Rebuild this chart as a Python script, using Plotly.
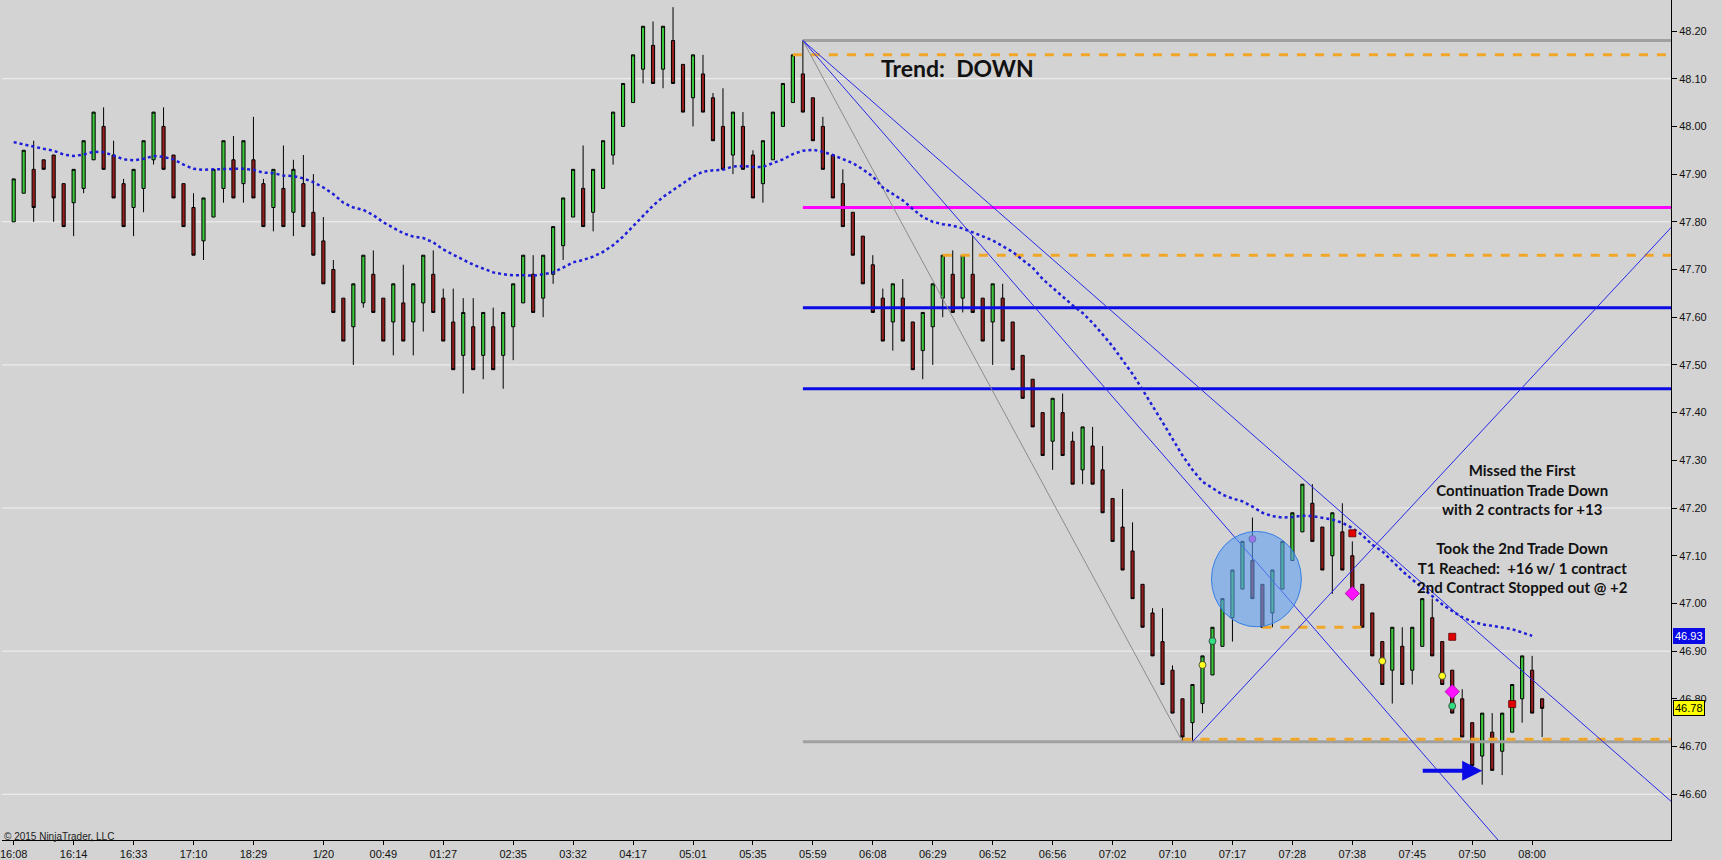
import plotly.graph_objects as go

# --- DATA ---
bars = list(range(154))

opens = [47.80, 47.86, 47.91, 47.93, 47.94, 47.88, 47.84, 47.87, 47.93, 48.00,
         47.94, 47.88, 47.83, 47.87, 47.93, 48.00, 47.94, 47.88, 47.83, 47.76,
         47.81, 47.87, 47.93, 47.88, 47.93, 47.88, 47.83, 47.87, 47.82, 47.88,
         47.82, 47.76, 47.70, 47.64, 47.58, 47.63, 47.69, 47.64, 47.59, 47.63,
         47.59, 47.63, 47.69, 47.64, 47.59, 47.52, 47.58, 47.52, 47.58, 47.52,
         47.58, 47.63, 47.69, 47.64, 47.69, 47.75, 47.81, 47.87, 47.82, 47.87,
         47.94, 48.00, 48.05, 48.12, 48.17, 48.12, 48.18, 48.13, 48.06, 48.11,
         48.06, 48.00, 47.94, 48.00, 47.94, 47.88, 47.93, 48.00, 48.05, 48.11,
         48.06, 48.00, 47.94, 47.88, 47.82, 47.77, 47.71, 47.64, 47.59, 47.64,
         47.59, 47.53, 47.58, 47.64, 47.69, 47.64, 47.69, 47.64, 47.59, 47.64,
         47.59, 47.52, 47.47, 47.40, 47.34, 47.40, 47.34, 47.28, 47.33, 47.28,
         47.22, 47.16, 47.11, 47.04, 46.98, 46.92, 46.86, 46.80, 46.75, 46.79,
         46.85, 46.91, 46.97, 47.03, 47.09, 47.04, 46.98, 47.03, 47.09, 47.15,
         47.21, 47.16, 47.10, 47.15, 47.10, 47.04, 46.98, 46.92, 46.86, 46.91,
         46.86, 46.91, 46.97, 46.92, 46.86, 46.80, 46.75, 46.68, 46.73, 46.69,
         46.73, 46.80, 46.86, 46.80]

highs = [47.89, 47.95, 47.97, 47.93, 47.94, 47.88, 47.91, 47.97, 48.03, 48.04,
         47.97, 47.89, 47.91, 47.97, 48.03, 48.04, 47.94, 47.88, 47.86, 47.85,
         47.91, 47.97, 47.98, 47.97, 48.02, 47.89, 47.91, 47.96, 47.93, 47.94,
         47.90, 47.81, 47.72, 47.64, 47.67, 47.73, 47.74, 47.64, 47.67, 47.71,
         47.67, 47.73, 47.74, 47.66, 47.66, 47.64, 47.64, 47.61, 47.62, 47.61,
         47.67, 47.73, 47.73, 47.73, 47.79, 47.85, 47.91, 47.96, 47.91, 47.97,
         48.03, 48.09, 48.15, 48.21, 48.22, 48.21, 48.25, 48.13, 48.15, 48.15,
         48.07, 48.08, 48.03, 48.03, 47.95, 47.97, 48.03, 48.09, 48.15, 48.18,
         48.06, 48.02, 47.94, 47.91, 47.82, 47.77, 47.73, 47.66, 47.67, 47.68,
         47.59, 47.61, 47.67, 47.73, 47.74, 47.73, 47.77, 47.64, 47.67, 47.67,
         47.59, 47.52, 47.47, 47.40, 47.43, 47.44, 47.36, 47.37, 47.37, 47.33,
         47.22, 47.24, 47.17, 47.04, 46.99, 46.99, 46.87, 46.80, 46.83, 46.89,
         46.95, 47.01, 47.07, 47.13, 47.18, 47.04, 47.07, 47.13, 47.19, 47.25,
         47.25, 47.16, 47.19, 47.21, 47.13, 47.04, 46.98, 46.92, 46.95, 46.95,
         46.95, 47.01, 47.01, 46.92, 46.86, 46.82, 46.75, 46.77, 46.77, 46.77,
         46.83, 46.89, 46.89, 46.80]

lows = [47.80, 47.86, 47.80, 47.91, 47.80, 47.79, 47.77, 47.86, 47.93, 47.91,
        47.85, 47.79, 47.77, 47.82, 47.92, 47.91, 47.85, 47.79, 47.73, 47.72,
        47.81, 47.84, 47.85, 47.84, 47.85, 47.79, 47.78, 47.79, 47.77, 47.79,
        47.73, 47.67, 47.61, 47.55, 47.50, 47.62, 47.61, 47.55, 47.52, 47.55,
        47.52, 47.57, 47.61, 47.55, 47.49, 47.44, 47.49, 47.47, 47.49, 47.45,
        47.51, 47.63, 47.61, 47.60, 47.67, 47.72, 47.81, 47.79, 47.78, 47.87,
        47.92, 48.00, 48.05, 48.09, 48.09, 48.08, 48.09, 48.03, 48.00, 48.03,
        47.97, 47.91, 47.90, 47.91, 47.85, 47.84, 47.93, 48.00, 48.05, 48.03,
        47.97, 47.91, 47.85, 47.79, 47.73, 47.67, 47.61, 47.55, 47.53, 47.55,
        47.49, 47.47, 47.50, 47.60, 47.61, 47.61, 47.61, 47.55, 47.50, 47.55,
        47.49, 47.43, 47.37, 47.31, 47.28, 47.31, 47.25, 47.25, 47.25, 47.19,
        47.13, 47.07, 47.01, 46.95, 46.89, 46.83, 46.77, 46.71, 46.71, 46.77,
        46.85, 46.91, 46.92, 47.03, 47.01, 46.95, 46.95, 47.03, 47.09, 47.15,
        47.13, 47.07, 47.02, 47.07, 47.01, 46.95, 46.89, 46.83, 46.79, 46.83,
        46.83, 46.91, 46.89, 46.83, 46.77, 46.72, 46.66, 46.62, 46.65, 46.64,
        46.73, 46.75, 46.77, 46.72]

closes = [47.89, 47.95, 47.83, 47.91, 47.85, 47.79, 47.91, 47.97, 48.03, 47.91,
          47.85, 47.79, 47.91, 47.97, 48.03, 47.91, 47.85, 47.79, 47.73, 47.85,
          47.91, 47.97, 47.85, 47.97, 47.85, 47.79, 47.91, 47.79, 47.91, 47.79,
          47.73, 47.67, 47.61, 47.55, 47.67, 47.73, 47.61, 47.55, 47.67, 47.55,
          47.67, 47.73, 47.61, 47.55, 47.49, 47.61, 47.49, 47.61, 47.49, 47.61,
          47.67, 47.73, 47.61, 47.73, 47.79, 47.85, 47.91, 47.79, 47.91, 47.97,
          48.03, 48.09, 48.15, 48.21, 48.09, 48.21, 48.09, 48.03, 48.15, 48.03,
          47.97, 47.91, 48.03, 47.91, 47.85, 47.97, 48.03, 48.09, 48.15, 48.03,
          47.97, 47.91, 47.85, 47.79, 47.73, 47.67, 47.61, 47.55, 47.67, 47.55,
          47.49, 47.61, 47.67, 47.73, 47.61, 47.73, 47.61, 47.55, 47.67, 47.55,
          47.49, 47.43, 47.37, 47.31, 47.43, 47.31, 47.25, 47.37, 47.25, 47.19,
          47.13, 47.07, 47.01, 46.95, 46.89, 46.83, 46.77, 46.72, 46.83, 46.89,
          46.95, 47.01, 47.07, 47.13, 47.01, 46.95, 47.07, 47.13, 47.19, 47.25,
          47.13, 47.07, 47.19, 47.07, 47.01, 46.95, 46.89, 46.83, 46.95, 46.83,
          46.95, 47.01, 46.89, 46.83, 46.77, 46.72, 46.66, 46.77, 46.65, 46.77,
          46.83, 46.89, 46.77, 46.78]

# moving average (blue dotted), drawn up to bar 152
ma_values = [47.967, 47.962, 47.958, 47.953, 47.949, 47.941, 47.938, 47.941, 47.947, 47.946,
             47.939, 47.931, 47.929, 47.932, 47.938, 47.936, 47.931, 47.920, 47.911, 47.909,
             47.910, 47.911, 47.911, 47.911, 47.909, 47.903, 47.902, 47.897, 47.896, 47.891,
             47.883, 47.872, 47.858, 47.840, 47.830, 47.825, 47.814, 47.799, 47.787, 47.776,
             47.769, 47.766, 47.757, 47.742, 47.731, 47.720, 47.710, 47.702, 47.694, 47.690,
             47.688, 47.688, 47.687, 47.690, 47.694, 47.704, 47.715, 47.720, 47.727, 47.737,
             47.751, 47.769, 47.791, 47.813, 47.834, 47.852, 47.866, 47.880, 47.895, 47.905,
             47.908, 47.909, 47.916, 47.917, 47.915, 47.915, 47.923, 47.931, 47.942, 47.949,
             47.951, 47.947, 47.940, 47.931, 47.923, 47.910, 47.895, 47.872, 47.859, 47.845,
             47.827, 47.810, 47.800, 47.795, 47.792, 47.786, 47.778, 47.770, 47.761, 47.749,
             47.737, 47.720, 47.704, 47.680, 47.662, 47.642, 47.625, 47.609, 47.588, 47.564,
             47.539, 47.510, 47.481, 47.448, 47.415, 47.380, 47.345, 47.310, 47.280, 47.255,
             47.242, 47.228, 47.220, 47.214, 47.203, 47.190, 47.183, 47.180, 47.181, 47.184,
             47.183, 47.179, 47.176, 47.169, 47.158, 47.143, 47.123, 47.109, 47.088, 47.068,
             47.050, 47.033, 47.015, 46.998, 46.984, 46.971, 46.962, 46.956, 46.953, 46.949,
             46.946, 46.939, 46.932]

tick_bars = [0, 6, 12, 18, 24, 31, 37, 43, 50, 56, 62, 68, 74, 80, 86, 92, 98, 104,
             110, 116, 122, 128, 134, 140, 146, 152]
tick_labels = ['16:08', '16:14', '16:33', '17:10', '18:29', '1/20', '00:49', '01:27',
               '02:35', '03:32', '04:17', '05:01', '05:35', '05:59', '06:08', '06:29',
               '06:52', '06:56', '07:02', '07:10', '07:17', '07:28', '07:38', '07:45',
               '07:50', '08:00']

grid_prices = [48.10, 47.80, 47.50, 47.20, 46.90, 46.60]

# horizontal levels: price, first bar, last bar
level_prices = [48.18, 48.15, 47.83, 47.73, 47.62, 47.45, 46.71, 46.715, 46.95]
level_start = [79, 78, 79, 93, 79, 79, 79, 117, 125]
level_end = [170, 170, 170, 170, 170, 170, 170, 170, 135]
level_kind = ['hl', 'target', 'stop', 'target', 'entry', 'entry', 'hl', 'target', 'target']

# trend lines (bar, price)
upper_chan_bars, upper_chan_prices = [79, 170], [48.18, 46.51]
steep_chan_bars, steep_chan_prices = [79, 150], [48.18, 46.47]
swing_bars, swing_prices = [79, 117], [48.18, 46.71]
rise_bars, rise_prices = [118, 170], [46.71, 47.88]

# signal markers
yellow_bars, yellow_prices = [119, 137, 143], [46.871, 46.879, 46.848]
green_bars, green_prices = [120, 144], [46.921, 46.785]
pink_dot_bars, pink_dot_prices = [124], [47.135]
diamond_bars, diamond_prices = [134, 144], [47.021, 46.815]
square_bars, square_prices = [134, 144, 150], [47.147, 46.930, 46.789]

# highlighted pullback (circle) and entry arrow
circle_bars = [119.9, 128.9]
circle_prices = [46.951, 47.151]
arrow_bars = [140.9, 147.0]
arrow_price = 46.649

note_text = ("Missed the First<br>Continuation Trade Down<br>with 2 contracts for +13<br><br>"
             "Took the 2nd Trade Down<br>T1 Reached:  +16 w/ 1 contract<br>"
             "2nd Contract Stopped out @ +2")

BG = '#D3D3D3'
ORANGE = '#F2A627'
BLUE = '#0A0AE6'

fig = go.Figure()

# horizontal levels first (under the candles)
level_style = {
    'hl': dict(color='#A0A0A0', width=3),
    'target': dict(color=ORANGE, width=3, dash='dash'),
    'stop': dict(color='#FF00FF', width=3),
    'entry': dict(color=BLUE, width=3),
}
for p, x0, x1, k in zip(level_prices, level_start, level_end, level_kind):
    fig.add_trace(go.Scatter(x=[x0, x1], y=[p, p], mode='lines', line=level_style[k],
                             hoverinfo='skip', showlegend=False))

fig.add_trace(go.Scatter(x=swing_bars, y=swing_prices, mode='lines',
                         line=dict(color='#8C8C8C', width=1), showlegend=False))
for bx, py in [(upper_chan_bars, upper_chan_prices), (steep_chan_bars, steep_chan_prices),
               (rise_bars, rise_prices)]:
    fig.add_trace(go.Scatter(x=bx, y=py, mode='lines',
                             line=dict(color='#2828E8', width=1), showlegend=False))

fig.add_trace(go.Candlestick(
    x=bars, open=opens, high=highs, low=lows, close=closes,
    increasing=dict(fillcolor='#3CC83C', line=dict(color='black', width=1)),
    decreasing=dict(fillcolor='#961E1E', line=dict(color='black', width=1)),
    whiskerwidth=0, showlegend=False))

fig.add_trace(go.Scatter(x=bars[:len(ma_values)], y=ma_values, mode='lines',
                         line=dict(color='#1E1ED8', width=2.5, dash='dot'), showlegend=False))

# signal markers
mk_line = dict(color='#333333', width=0.8)
fig.add_trace(go.Scatter(x=yellow_bars, y=yellow_prices, mode='markers',
                         marker=dict(symbol='circle', size=7, color='#FFFF20', line=mk_line),
                         showlegend=False))
fig.add_trace(go.Scatter(x=green_bars, y=green_prices, mode='markers',
                         marker=dict(symbol='circle', size=7, color='#30E080', line=mk_line),
                         showlegend=False))
fig.add_trace(go.Scatter(x=pink_dot_bars, y=pink_dot_prices, mode='markers',
                         marker=dict(symbol='circle', size=7, color='#FF30E0', line=mk_line),
                         showlegend=False))
fig.add_trace(go.Scatter(x=diamond_bars, y=diamond_prices, mode='markers',
                         marker=dict(symbol='diamond', size=11, color='#FF10FF',
                                     line=dict(color='#A000A0', width=0.8)),
                         showlegend=False))
fig.add_trace(go.Scatter(x=square_bars, y=square_prices, mode='markers',
                         marker=dict(symbol='square', size=7, color='#E00000',
                                     line=dict(color='#600000', width=0.8)),
                         showlegend=False))

# pullback circle
fig.add_shape(type='circle', xref='x', yref='y',
              x0=circle_bars[0], x1=circle_bars[1], y0=circle_prices[0], y1=circle_prices[1],
              fillcolor='rgba(95,160,240,0.6)', line=dict(color='rgba(40,120,230,0.9)', width=1),
              layer='above')

# light grid every 0.30
for g in grid_prices:
    fig.add_hline(y=g, line=dict(color='#F2F2F2', width=1), layer='below')

# entry arrow
fig.add_annotation(x=arrow_bars[1], y=arrow_price, ax=arrow_bars[0], ay=arrow_price,
                   xref='x', yref='y', axref='x', ayref='y', text='', showarrow=True,
                   arrowhead=2, arrowsize=1, arrowwidth=4, arrowcolor=BLUE)

fig.add_annotation(x=86.6, y=48.123, xref='x', yref='y', xanchor='left', yanchor='middle',
                   text='<b>Trend:  DOWN</b>', showarrow=False,
                   font=dict(family='Lato', size=23, color='#111111'))

fig.add_annotation(x=151, y=47.158, xref='x', yref='y', xanchor='center', yanchor='middle',
                   text=note_text, showarrow=False, align='center',
                   font=dict(family='Lato', size=15, color='#111111', weight='bold'))

# price markers on the axis
fig.add_annotation(x=1.001, y=ma_values[-1], xref='paper', yref='y', xanchor='left',
                   text=f'{ma_values[-1]:.2f}', showarrow=False, bgcolor=BLUE,
                   font=dict(family='Liberation Sans', size=11, color='white'),
                   borderpad=1, bordercolor=BLUE, borderwidth=1)
fig.add_annotation(x=1.001, y=closes[-1], xref='paper', yref='y', xanchor='left',
                   text=f'{closes[-1]:.2f}', showarrow=False, bgcolor='#FFFF00',
                   font=dict(family='Liberation Sans', size=11, color='black'),
                   borderpad=1, bordercolor='black', borderwidth=1)

fig.add_annotation(x=0, y=0, xref='paper', yref='paper', xanchor='left', yanchor='bottom',
                   yshift=-4, text='© 2015 NinjaTrader, LLC', showarrow=False,
                   font=dict(family='Liberation Sans', size=10, color='#222222'))

fig.update_layout(
    width=1722, height=860,
    margin=dict(l=0, r=51, t=0, b=16),
    paper_bgcolor=BG, plot_bgcolor=BG,
    showlegend=False,
    boxgap=0.55,
    xaxis=dict(range=[-1.17, 165.9], tickmode='array', tickvals=tick_bars, ticktext=tick_labels,
               showgrid=False, zeroline=False, showline=True, linecolor='black', linewidth=1,
               ticks='outside', ticklen=4, tickcolor='black', ticklabeloverflow='allow',
               tickfont=dict(family='Liberation Sans', size=11, color='#111111'),
               rangeslider=dict(visible=False)),
    yaxis=dict(range=[46.504, 48.265], side='right', dtick=0.1, tick0=46.6, tickformat='.2f',
               showgrid=False, zeroline=False, showline=True, linecolor='black', linewidth=1,
               ticks='outside', ticklen=5, tickcolor='black',
               tickfont=dict(family='Liberation Sans', size=11, color='#111111')),
)

fig.write_html("out.html", config={'displayModeBar': False},
               post_script="document.body.style.margin='0px';document.body.style.overflow='hidden';")
